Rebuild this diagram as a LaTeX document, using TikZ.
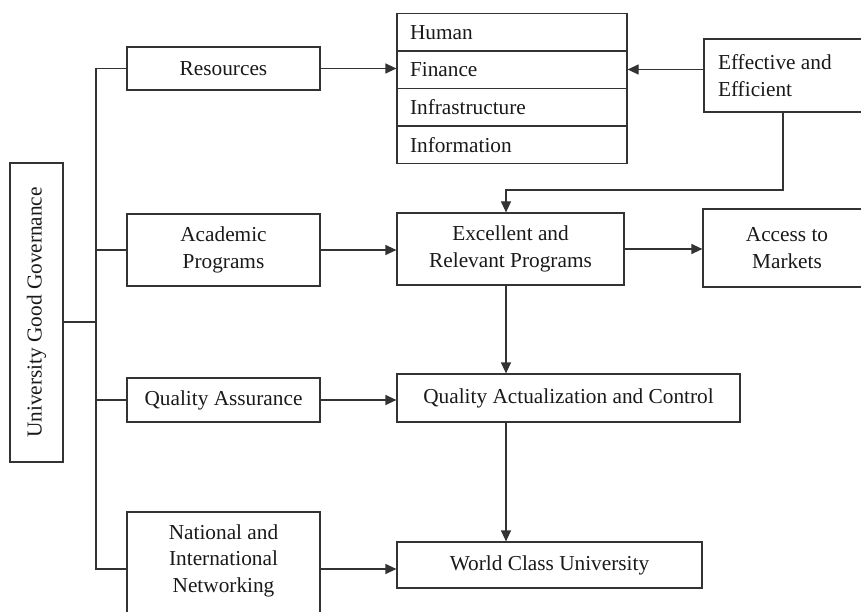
\documentclass[tikz,border=0pt]{standalone}
\usepackage{fontspec}
\setmainfont{Liberation Serif}
\usetikzlibrary{arrows.meta}
\tikzset{
  box/.style={draw=black!80, line width=1.2pt, inner sep=0pt, anchor=center,
    font=\fontsize{21.3}{26.5}\selectfont, align=center, text=black!90},
  rowbox/.style={box, minimum width=230pt, minimum height=37.5pt, text width=204pt, align=flush left},
  conn/.style={draw=black!80, line width=1.2pt},
  arr/.style={conn, -{Triangle[length=11pt,width=10pt]}}
}
\begin{document}
\begin{tikzpicture}[x=1pt,y=-1pt]
\useasboundingbox (0,0) rectangle (861,612);
\clip (0,0) rectangle (861,612);
% left
\node[box, minimum width=53pt, minimum height=299pt] (gov) at (36.5,312.5) {};
\node[rotate=90, font=\fontsize{21.3}{26.5}\selectfont, text=black!90, inner sep=0pt] (govt) at (gov.center) {University Good Governance};
\node[box, minimum width=193pt, minimum height=43pt] (res) at (223.5,68.5) {Resources};
\node[box, minimum width=193pt, minimum height=72pt] (acad) at (223.5,250) {Academic\\Programs};
\node[box, minimum width=193pt, minimum height=44pt] (qa) at (223.5,400) {Quality Assurance};
\node[box, minimum width=193pt, minimum height=114pt, text depth=21pt] (nat) at (223.5,569) {National and\\International\\Networking};
% resource list
\node[rowbox] (hum) at (512,32.5) {Human};
\node[rowbox] (fin) at (512,69.5) {Finance};
\node[rowbox] (inf) at (512,107) {Infrastructure};
\node[rowbox] (info) at (512,145) {Information};
% right
\node[box, minimum width=176pt, minimum height=73pt, text width=148pt, align=flush left] (eff) at (792,75.5) {Effective and\\Efficient};
\node[box, minimum width=227pt, minimum height=72pt] (exc) at (510.5,249) {Excellent and\\Relevant Programs};
\node[box, minimum width=168pt, minimum height=78pt] (acc) at (787,248) {Access to\\Markets};
\node[box, minimum width=343pt, minimum height=48pt] (qac) at (568.5,398) {Quality Actualization and Control};
\node[box, minimum width=305pt, minimum height=46pt] (wcu) at (549.5,565) {World Class University};
% helper coordinates
\coordinate (bx) at (96,0);
\coordinate (vx) at (506,0);
\coordinate (ex) at (783,0);
\coordinate (ey) at (0,190);
% bus
\draw[conn] (res.west) -- (res.west -| bx) -- (nat.west -| bx) -- (nat.west);
\draw[conn] (acad.west) -- (acad.west -| bx);
\draw[conn] (qa.west) -- (qa.west -| bx);
\draw[conn] ([yshift=-9.5pt]gov.east) -- ([yshift=-9.5pt]gov.east -| bx);
% arrows
\draw[arr] (res.east) -- (res.east -| hum.west);
\draw[arr] (fin.east -| eff.west) -- (fin.east);
\draw[arr] (eff.south -| ex) -- (ex |- ey) -- (vx |- ey) -- (exc.north -| vx);
\draw[arr] (acad.east) -- (acad.east -| exc.west);
\draw[arr] (exc.east) -- (exc.east -| acc.west);
\draw[arr] (exc.south -| vx) -- (qac.north -| vx);
\draw[arr] (qa.east) -- (qa.east -| qac.west);
\draw[arr] (qac.south -| vx) -- (wcu.north -| vx);
\draw[arr] (nat.east) -- (nat.east -| wcu.west);
\end{tikzpicture}
\end{document}
